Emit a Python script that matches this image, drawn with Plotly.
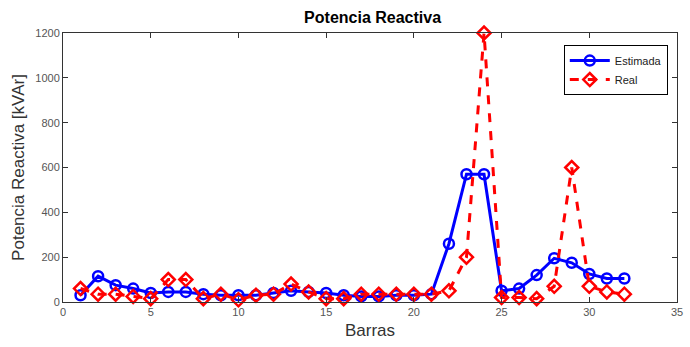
import plotly.graph_objects as go

barras = list(range(1, 33))
estimada = [30, 115, 75, 60, 40, 45, 45, 35, 30, 30, 30, 40, 50, 45, 40, 30,
            25, 25, 30, 30, 35, 260, 570, 570, 50, 60, 120, 195, 175, 125, 105, 105]
real = [60, 35, 35, 25, 15, 100, 100, 15, 35, 10, 30, 35, 80, 45, 15, 15,
        35, 35, 35, 35, 35, 50, 200, 1200, 20, 20, 15, 70, 600, 70, 45, 35]

x_ticks = [0, 5, 10, 15, 20, 25, 30, 35]
y_ticks = [0, 200, 400, 600, 800, 1000, 1200]

fig = go.Figure()
fig.add_trace(go.Scatter(
    x=barras, y=estimada, name="Estimada", mode="lines+markers", cliponaxis=False,
    line=dict(color="#0000ff", width=3),
    marker=dict(symbol="circle-open", size=10, color="#0000ff", line=dict(width=2.5)),
))
fig.add_trace(go.Scatter(
    x=barras, y=real, name="Real", mode="lines+markers", cliponaxis=False,
    line=dict(color="#ff0000", width=3, dash="dash"),
    marker=dict(symbol="diamond-open", size=10, color="#ff0000", line=dict(width=2.5)),
))

axis_common = dict(
    showgrid=False, zeroline=False, showline=True, linecolor="#333333", linewidth=1,
    mirror="ticks", ticks="inside", ticklen=5, tickcolor="#333333",
    tickfont=dict(family="Liberation Sans, Arial", size=11, color="#555555"),
)

fig.update_layout(
    width=690, height=347,
    margin=dict(l=63, r=7, t=33, b=45),
    paper_bgcolor="white", plot_bgcolor="white",
    title=dict(text="<b>Potencia Reactiva</b>", x=0.54, xanchor="center", y=0.95, yanchor="middle",
               font=dict(family="Liberation Sans, Arial", size=16, color="#000000")),
    xaxis=dict(range=[0, 35], tickvals=x_ticks,
               title=dict(text="Barras", standoff=6,
                          font=dict(family="Liberation Sans, Arial", size=17, color="#333333")),
               **axis_common),
    yaxis=dict(range=[0, 1200], tickvals=y_ticks,
               title=dict(text="Potencia Reactiva [kVAr]", standoff=6,
                          font=dict(family="Liberation Sans, Arial", size=17, color="#333333")),
               **axis_common),
    legend=dict(x=0.985, y=0.955, xanchor="right", yanchor="top",
                bgcolor="white", bordercolor="#000000", borderwidth=1,
                font=dict(family="Liberation Sans, Arial", size=11, color="#222222"),
                tracegroupgap=0, itemwidth=40),
    showlegend=True,
)

fig.write_html("out.html")
